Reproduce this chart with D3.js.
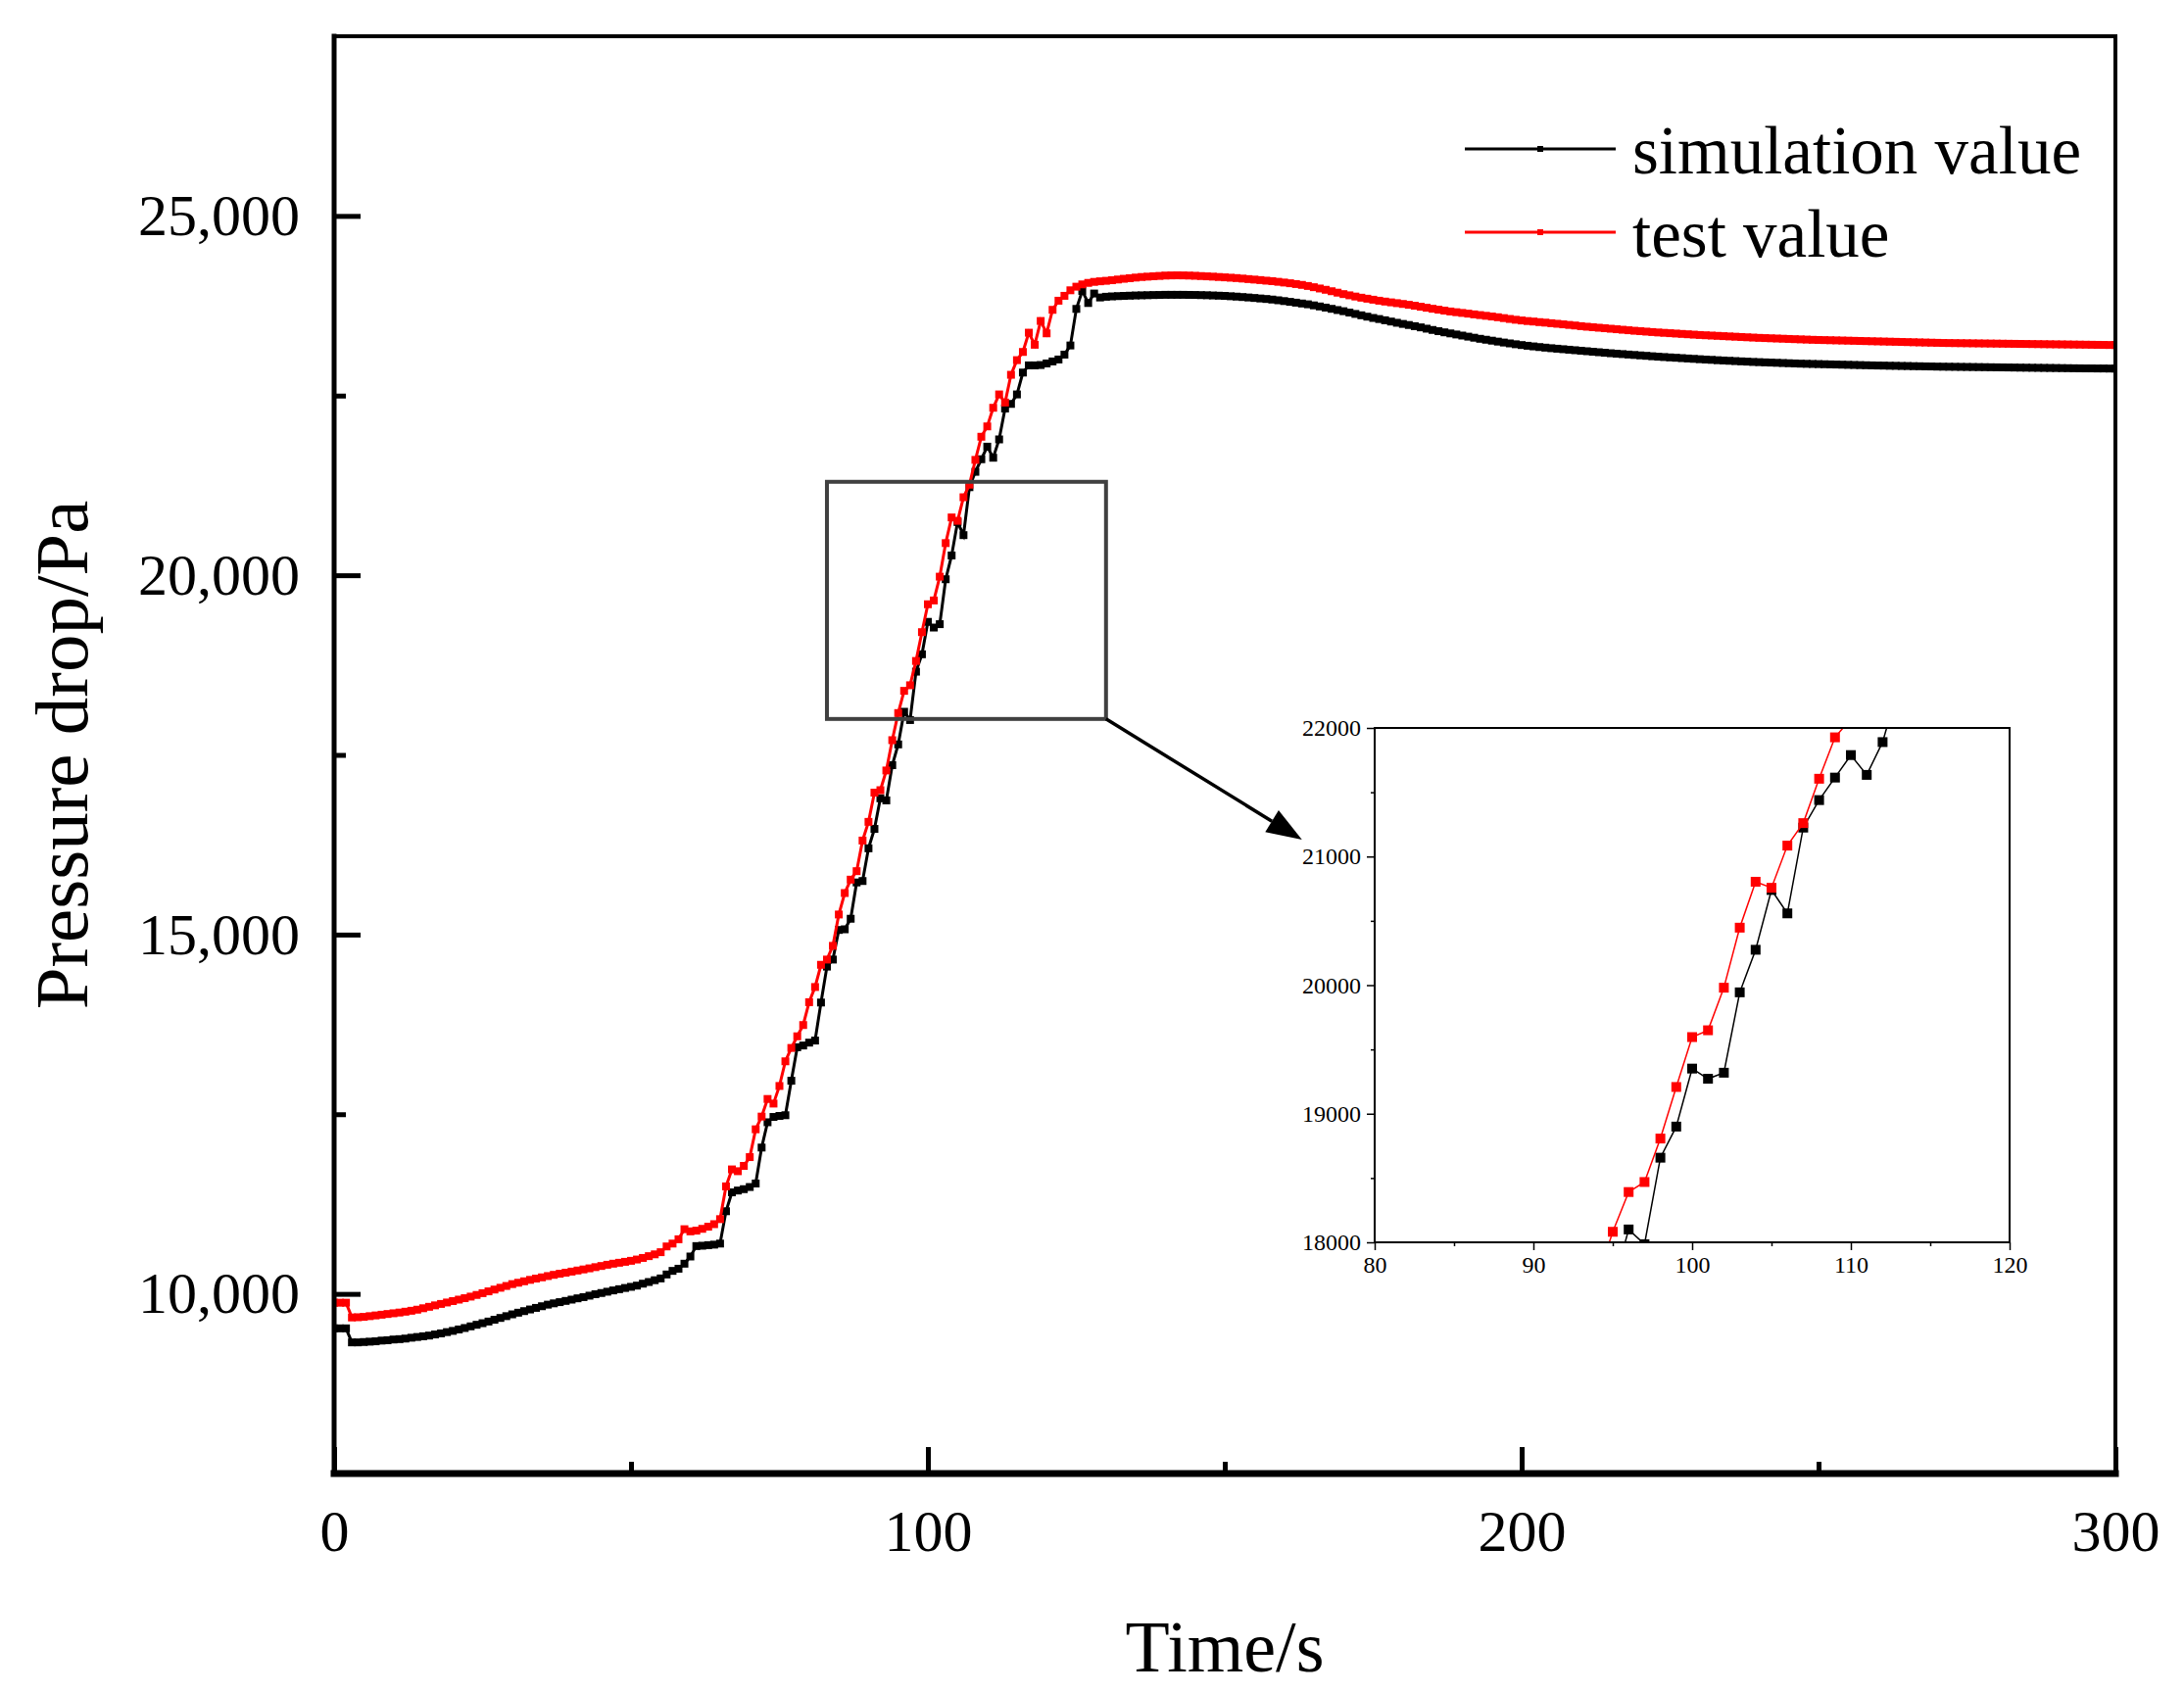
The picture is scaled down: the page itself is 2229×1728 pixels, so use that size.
<!DOCTYPE html>
<html><head><meta charset="utf-8">
<script src="https://cdn.jsdelivr.net/npm/d3@7"></script>
<style>
body{margin:0;background:#fff}
text{font-family:"Liberation Serif","Times New Roman",serif;fill:#000}
</style>
</head><body>
<svg id="chart" width="2229" height="1728"></svg>
<script>
// ---------- data (1 s steps) ----------
const simulationValue = [
9520,9520,9520,9325,9325,9330,9335,9340,9350,9355,
9365,9370,9378,9390,9400,9410,9420,9435,9450,9468,
9485,9505,9525,9548,9570,9592,9615,9640,9665,9690,
9715,9738,9760,9783,9805,9828,9850,9868,9885,9902,
9920,9938,9955,9975,9995,10012,10030,10048,10065,10082,
10098,10115,10142,10165,10190,10215,10270,10320,10350,10420,
10520,10665,10670,10678,10685,10700,11150,11413,11438,11457,
11487,11536,12036,12388,12462,12476,12486,12966,13432,13456,
13496,13525,14054,14554,14652,15064,15073,15220,15725,15745,
16200,16470,16896,16867,17357,17646,18100,17985,18658,18900,
19351,19272,19319,19944,20275,20740,20558,21225,21439,21614,
21789,21635,21890,22320,22384,22516,22820,22920,22920,22925,
22947,22975,23002,23070,23197,23706,23956,23788,23920,23865,
23875,23880,23884,23887,23890,23893,23895,23897,23899,23900,
23902,23902,23902,23902,23901,23900,23898,23896,23893,23890,
23887,23882,23877,23871,23865,23858,23851,23844,23836,23826,
23815,23804,23793,23781,23770,23755,23740,23724,23707,23690,
23674,23655,23636,23617,23598,23580,23565,23548,23530,23513,
23497,23482,23466,23449,23431,23413,23396,23380,23365,23350,
23335,23320,23305,23290,23277,23264,23251,23238,23226,23214,
23203,23193,23184,23175,23167,23159,23152,23145,23138,23131,
23124,23117,23110,23103,23096,23089,23083,23077,23071,23065,
23059,23053,23047,23041,23036,23031,23026,23021,23016,23011,
23006,23001,22997,22992,22988,22984,22980,22976,22972,22968,
22965,22962,22959,22956,22953,22950,22947,22944,22942,22940,
22938,22936,22934,22932,22930,22928,22926,22924,22922,22920,
22918,22917,22915,22914,22912,22911,22909,22908,22906,22905,
22903,22902,22901,22900,22899,22898,22897,22896,22895,22894,
22893,22892,22891,22890,22889,22888,22887,22886,22885,22884,
22883,22882,22881,22880,22879,22878,22878,22877,22877,22876,
22876
];
const testValue = [
9877,9877,9877,9672,9675,9680,9690,9700,9710,9720,
9730,9740,9752,9765,9780,9800,9820,9840,9860,9880,
9900,9920,9940,9962,9985,10010,10035,10060,10085,10110,
10136,10155,10175,10195,10213,10230,10248,10265,10280,10295,
10310,10325,10340,10355,10372,10388,10405,10420,10433,10446,
10460,10478,10500,10525,10550,10580,10660,10700,10760,10900,
10870,10880,10905,10935,10970,11040,11496,11732,11707,11781,
11903,12290,12467,12712,12648,12893,13236,13422,13584,13741,
14059,14270,14579,14652,14843,15279,15578,15764,15882,16308,
16568,16975,17009,17283,17705,18082,18391,18469,18807,19208,
19596,19649,19980,20447,20804,20757,21085,21260,21605,21927,
22071,22330,22516,22403,22789,22993,23107,23375,23207,23538,
23366,23693,23820,23888,23965,24015,24047,24068,24082,24090,
24097,24105,24115,24125,24133,24142,24150,24155,24160,24165,
24170,24172,24173,24172,24170,24167,24163,24159,24155,24150,
24145,24140,24135,24128,24121,24114,24107,24099,24092,24083,
24073,24063,24052,24040,24025,24008,23990,23972,23952,23932,
23912,23895,23878,23862,23848,23834,23820,23808,23797,23786,
23775,23763,23750,23736,23722,23708,23695,23682,23670,23660,
23650,23640,23630,23620,23610,23600,23590,23578,23566,23555,
23545,23537,23530,23522,23515,23507,23499,23491,23483,23475,
23466,23458,23451,23444,23437,23430,23423,23416,23409,23402,
23396,23390,23384,23378,23373,23368,23363,23358,23353,23348,
23343,23339,23335,23331,23327,23323,23319,23315,23311,23307,
23303,23300,23297,23294,23291,23288,23285,23282,23279,23276,
23274,23272,23270,23268,23266,23264,23262,23260,23258,23256,
23254,23252,23250,23248,23246,23244,23242,23240,23238,23236,
23234,23232,23231,23230,23229,23228,23227,23226,23225,23224,
23223,23222,23221,23220,23219,23218,23217,23216,23215,23214,
23213,23212,23211,23210,23209,23208,23207,23206,23205,23204,
23203
];
const timeSeconds = d3.range(0, simulationValue.length);   // 0,1,...,300 s
const seriesNames = ["simulation value", "test value"];
const seriesColors = ["#000000", "#ff0000"];

const xTicks = [0, 100, 200, 300];
const xMinorTicks = [50, 150, 250];
const yTicks = [10000, 15000, 20000, 25000];
const yMinorTicks = [12500, 17500, 22500];

const insetXTicks = [80, 90, 100, 110, 120];
const insetXMinorTicks = [85, 95, 105, 115];
const insetYTicks = [18000, 19000, 20000, 21000, 22000];
const insetYMinorTicks = [18500, 19500, 20500, 21500];

// zoom annotation (data units)
const zoomBox = {t0: 83, t1: 130, v0: 18000, v1: 21300};
const arrowTip = {t: 163, v: 16320};

// ---------- drawing ----------
const svg = d3.select("#chart");
const M = {left: 341, right: 2159, top: 37, bottom: 1504};
const x = d3.scaleLinear().domain([0, 300]).range([M.left, M.right]);
const y = d3.scaleLinear().domain([7500, 27500]).range([M.bottom, M.top]);

const series = [simulationValue, testValue].map((vals, i) => ({
  name: seriesNames[i], color: seriesColors[i],
  pts: vals.map((v, k) => ({t: timeSeconds[k], v}))
}));

const defs = svg.append("defs");
defs.append("clipPath").attr("id", "mainClip").append("rect")
  .attr("x", M.left).attr("y", M.top).attr("width", M.right - M.left).attr("height", M.bottom - M.top);

const mainLine = d3.line().x(d => x(d.t)).y(d => y(d.v));
const gMain = svg.append("g").attr("clip-path", "url(#mainClip)");
series.forEach(s => {
  const g = gMain.append("g");
  g.append("path").datum(s.pts).attr("d", mainLine)
    .attr("fill", "none").attr("stroke", s.color).attr("stroke-width", 3);
  g.selectAll("rect").data(s.pts).join("rect")
    .attr("x", d => x(d.t) - 4).attr("y", d => y(d.v) - 4)
    .attr("width", 8).attr("height", 8).attr("fill", s.color);
});

// axes (ticks inward)
const axFont = 60;
const xAxis = svg.append("g").attr("transform", `translate(0,${M.bottom})`)
  .call(d3.axisBottom(x).tickValues(xTicks).tickSize(-27).tickSizeOuter(0).tickPadding(36).tickFormat(d3.format("d")));
const xAxisMinor = svg.append("g").attr("transform", `translate(0,${M.bottom})`)
  .call(d3.axisBottom(x).tickValues(xMinorTicks).tickSize(-12).tickSizeOuter(0).tickFormat(""));
const yAxis = svg.append("g").attr("transform", `translate(${M.left},0)`)
  .call(d3.axisLeft(y).tickValues(yTicks).tickSize(-27).tickSizeOuter(0).tickPadding(35).tickFormat(d3.format(",")));
const yAxisMinor = svg.append("g").attr("transform", `translate(${M.left},0)`)
  .call(d3.axisLeft(y).tickValues(yMinorTicks).tickSize(-12).tickSizeOuter(0).tickFormat(""));
[xAxis, xAxisMinor, yAxis, yAxisMinor].forEach(g => {
  g.select(".domain").remove();
  g.selectAll(".tick line").attr("stroke", "#000").attr("stroke-width", 5);
  g.selectAll(".tick text").attr("font-size", axFont).attr("font-family", "Liberation Serif").attr("fill", "#000");
});

// frame
const frame = svg.append("g").attr("stroke", "#000").attr("stroke-linecap", "square");
frame.append("line").attr("x1", M.left).attr("x2", M.right).attr("y1", M.top).attr("y2", M.top).attr("stroke-width", 4);
frame.append("line").attr("x1", M.right).attr("x2", M.right).attr("y1", M.top).attr("y2", M.bottom).attr("stroke-width", 4);
frame.append("line").attr("x1", M.left).attr("x2", M.left).attr("y1", M.top).attr("y2", M.bottom).attr("stroke-width", 5);
frame.append("line").attr("x1", M.left).attr("x2", M.right).attr("y1", M.bottom).attr("y2", M.bottom).attr("stroke-width", 7);

// axis titles
svg.append("text").attr("x", (M.left + M.right) / 2).attr("y", 1706)
  .attr("text-anchor", "middle").attr("font-size", 74).text("Time/s");
svg.append("text").attr("transform", `translate(89,${(M.top + M.bottom) / 2}) rotate(-90)`)
  .attr("text-anchor", "middle").attr("font-size", 77).text("Pressure drop/Pa");

// legend
const leg = svg.append("g");
series.forEach((s, i) => {
  const ly = 152 + i * 85;
  leg.append("line").attr("x1", 1495).attr("x2", 1649).attr("y1", ly).attr("y2", ly)
    .attr("stroke", s.color).attr("stroke-width", 3);
  leg.append("rect").attr("x", 1572 - 3).attr("y", ly - 3).attr("width", 6).attr("height", 6).attr("fill", s.color);
  leg.append("text").attr("x", 1666).attr("y", ly + 25).attr("font-size", 69).text(s.name);
});

// zoom box + arrow
svg.append("rect")
  .attr("x", x(zoomBox.t0)).attr("y", y(zoomBox.v1))
  .attr("width", x(zoomBox.t1) - x(zoomBox.t0)).attr("height", y(zoomBox.v0) - y(zoomBox.v1))
  .attr("fill", "none").attr("stroke", "#404040").attr("stroke-width", 4);
{
  const x1 = x(zoomBox.t1), y1 = y(zoomBox.v0), x2 = x(arrowTip.t), y2 = y(arrowTip.v);
  const ang = Math.atan2(y2 - y1, x2 - x1), L = 36, W = 13;
  const bx = x2 - L * Math.cos(ang), by = y2 - L * Math.sin(ang);
  svg.append("line").attr("x1", x1).attr("y1", y1).attr("x2", bx).attr("y2", by)
    .attr("stroke", "#000").attr("stroke-width", 3.5);
  const px = -Math.sin(ang), py = Math.cos(ang);
  svg.append("path").attr("d", `M${x2},${y2}L${bx + W * px},${by + W * py}L${bx - W * px},${by - W * py}Z`)
    .attr("fill", "#000");
}

// ---------- inset ----------
const IX = {left: 1403, right: 2051, top: 743, bottom: 1268};
const ix = d3.scaleLinear().domain([80, 120]).range([IX.left, IX.right]);
const iy = d3.scaleLinear().domain([18000, 22000]).range([IX.bottom, IX.top]);
svg.append("rect").attr("x", IX.left).attr("y", IX.top).attr("width", IX.right - IX.left)
  .attr("height", IX.bottom - IX.top).attr("fill", "#fff");
defs.append("clipPath").attr("id", "insetClip").append("rect")
  .attr("x", IX.left).attr("y", IX.top).attr("width", IX.right - IX.left).attr("height", IX.bottom - IX.top);
const insetLine = d3.line().x(d => ix(d.t)).y(d => iy(d.v));
const gInset = svg.append("g").attr("clip-path", "url(#insetClip)");
series.forEach(s => {
  const pts = s.pts.filter(d => d.t >= 78 && d.t <= 122);
  gInset.append("path").datum(pts).attr("d", insetLine)
    .attr("fill", "none").attr("stroke", s.color).attr("stroke-width", 1.5);
  gInset.selectAll(null).data(pts).join("rect")
    .attr("x", d => ix(d.t) - 5).attr("y", d => iy(d.v) - 5)
    .attr("width", 10).attr("height", 10).attr("fill", s.color);
});
svg.append("rect").attr("x", IX.left).attr("y", IX.top).attr("width", IX.right - IX.left)
  .attr("height", IX.bottom - IX.top).attr("fill", "none").attr("stroke", "#000").attr("stroke-width", 2);
const iax = [
  svg.append("g").attr("transform", `translate(0,${IX.bottom})`)
    .call(d3.axisBottom(ix).tickValues(insetXTicks).tickSize(8).tickSizeOuter(0).tickPadding(6).tickFormat(d3.format("d"))),
  svg.append("g").attr("transform", `translate(0,${IX.bottom})`)
    .call(d3.axisBottom(ix).tickValues(insetXMinorTicks).tickSize(4).tickSizeOuter(0).tickFormat("")),
  svg.append("g").attr("transform", `translate(${IX.left},0)`)
    .call(d3.axisLeft(iy).tickValues(insetYTicks).tickSize(8).tickSizeOuter(0).tickPadding(6).tickFormat(d3.format("d"))),
  svg.append("g").attr("transform", `translate(${IX.left},0)`)
    .call(d3.axisLeft(iy).tickValues(insetYMinorTicks).tickSize(4).tickSizeOuter(0).tickFormat(""))
];
iax.forEach(g => {
  g.select(".domain").remove();
  g.selectAll(".tick line").attr("stroke", "#000").attr("stroke-width", 1.5);
  g.selectAll(".tick text").attr("font-size", 24).attr("font-family", "Liberation Serif").attr("fill", "#000");
});
</script>
</body></html>
